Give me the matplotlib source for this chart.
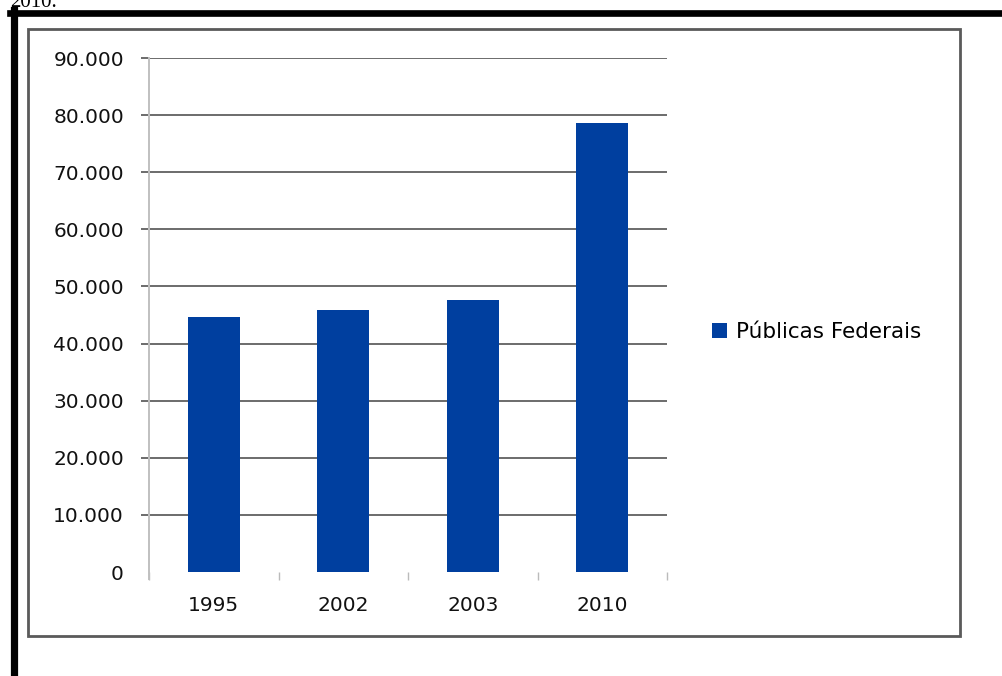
import numpy as np
import matplotlib.pyplot as plt
from matplotlib.patches import Rectangle
from matplotlib.lines import Line2D
from matplotlib.ticker import FuncFormatter

anos = ['1995', '2002', '2003', '2010']
valores = [44700, 45900, 47700, 78600]
serie = 'Públicas Federais'
yticks = [0, 10000, 20000, 30000, 40000, 50000, 60000, 70000, 80000, 90000]

W, H = 1002, 676
plt.rcParams['font.family'] = ['DejaVu Sans']

fig = plt.figure(figsize=(W / 100, H / 100), dpi=100)
fig.patch.set_facecolor('white')

def fx(px):
    return px / W

def fy(py):
    return 1 - py / H

# scanned page bits: cut caption, thick black border, grey chart frame
fig.text(fx(57), fy(7), '2010.', ha='right', va='baseline', fontsize=15,
         family='Liberation Serif', color='black')
fig.add_artist(Line2D([fx(13.5), fx(13.5)], [fy(10), 0], color='black', lw=5.2))
fig.add_artist(Line2D([fx(10), 1], [fy(13), fy(13)], color='black', lw=4.8))
fig.add_artist(Rectangle((fx(28), fy(636)), fx(960 - 28), (636 - 29) / H,
                         fill=False, edgecolor='#5a5a5a', lw=2.0))

ax = fig.add_axes([fx(149), fy(572), fx(667 - 149), (572 - 58) / H])
x = np.arange(len(anos))
ax.bar(x, valores, width=0.4, color='#003f9f', label=serie, zorder=3)

ax.set_xlim(-0.5, len(anos) - 0.5)
ax.set_ylim(0, 90000)
ax.set_yticks(yticks)
ax.yaxis.set_major_formatter(FuncFormatter(lambda v, p: f'{int(v):,}'.replace(',', '.')))
ax.set_xticks(x)
ax.set_xticklabels(anos)
ax.set_xticks(np.arange(len(anos) + 1) - 0.5, minor=True)

ax.grid(axis='y', color='#6b6b6b', lw=1.4, zorder=0)
ax.tick_params(axis='y', length=6, width=1.4, color='#6b6b6b', pad=12,
               labelsize=14.5, labelcolor='#111111')
ax.tick_params(axis='x', which='major', length=0, pad=17, labelsize=14.5,
               labelcolor='#111111')
ax.tick_params(axis='x', which='minor', length=6, width=1, color='#bbbbbb',
               direction='out')
fig.canvas.draw()
t0 = ax.yaxis.get_major_ticks()[0]
t0.gridline.set_visible(False)
t0.tick1line.set_visible(False)
for s in ['top', 'right', 'bottom']:
    ax.spines[s].set_visible(False)
ax.spines['left'].set_color('#c0c0c0')
ax.spines['left'].set_linewidth(1.4)
ax.spines['left'].set_bounds(-1300, 90000)

fig.legend(loc='center left', bbox_to_anchor=(fx(712), fy(332)), frameon=False,
           fontsize=15.5, handlelength=0.7, handleheight=0.7, handletextpad=0.4,
           borderaxespad=0, borderpad=0)

fig.savefig('out.png', dpi=100)
